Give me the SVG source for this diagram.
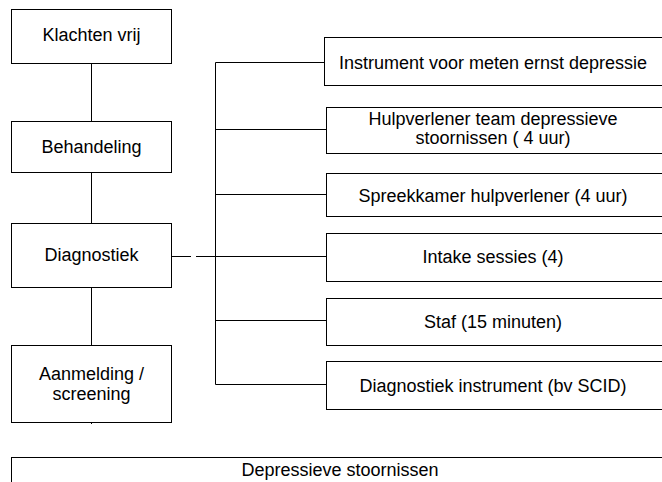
<svg xmlns="http://www.w3.org/2000/svg" width="662" height="482" viewBox="0 0 662 482">
  <style>
    .box { fill: #ffffff; stroke: #000000; stroke-width: 1; }
    .link { fill: none; stroke: #000000; stroke-width: 1; }
    text { font-family: "Liberation Sans", Arial, sans-serif; font-size: 18px; fill: #000000; text-anchor: middle; }
  </style>
  <rect width="662" height="482" fill="#ffffff"/>

  <!-- connectors -->
  <g id="connectors">
    <path class="link" d="M91.5 63 V121 M91.5 172 V223 M91.5 287 V345 M91.5 422 V424"/>
    <path class="link" d="M171 256.5 H191 M196 256.5 H215.5"/>
    <path class="link" d="M215.5 62.5 V384.5"/>
    <path class="link" d="M215.5 62.5 H324 M215.5 129.5 H326 M215.5 194.5 H326 M215.5 256.5 H326 M215.5 320.5 H326 M215.5 384.5 H326"/>
  </g>

  <!-- left column -->
  <g id="klachten-vrij">
    <rect class="box" x="11.5" y="9.5" width="160" height="54"/>
    <text x="91.5" y="41">Klachten vrij</text>
  </g>
  <g id="behandeling">
    <rect class="box" x="11.5" y="121.5" width="160" height="51"/>
    <text x="91.5" y="153">Behandeling</text>
  </g>
  <g id="diagnostiek">
    <rect class="box" x="11.5" y="223.5" width="160" height="64"/>
    <text x="91.5" y="261">Diagnostiek</text>
  </g>
  <g id="aanmelding">
    <rect class="box" x="11.5" y="345.5" width="160" height="77"/>
    <text x="91.5" y="380">Aanmelding /</text>
    <text x="91.5" y="400">screening</text>
  </g>

  <!-- right column -->
  <g id="instrument-ernst">
    <rect class="box" x="324.5" y="37.5" width="345" height="48"/>
    <text x="493" y="69">Instrument voor meten ernst depressie</text>
  </g>
  <g id="hulpverlener-team">
    <rect class="box" x="326.5" y="107.5" width="345" height="46"/>
    <text x="493" y="125">Hulpverlener team depressieve</text>
    <text x="493" y="144">stoornissen ( 4 uur)</text>
  </g>
  <g id="spreekkamer">
    <rect class="box" x="326.5" y="173.5" width="345" height="43"/>
    <text x="493" y="202">Spreekkamer hulpverlener (4 uur)</text>
  </g>
  <g id="intake">
    <rect class="box" x="326.5" y="233.5" width="345" height="48"/>
    <text x="493" y="263">Intake sessies (4)</text>
  </g>
  <g id="staf">
    <rect class="box" x="326.5" y="298.5" width="345" height="47"/>
    <text x="493" y="328">Staf (15 minuten)</text>
  </g>
  <g id="diagnostiek-instrument">
    <rect class="box" x="326.5" y="361.5" width="345" height="48"/>
    <text x="493" y="392">Diagnostiek instrument (bv SCID)</text>
  </g>

  <!-- base bar -->
  <g id="depressieve-stoornissen">
    <rect class="box" x="11.5" y="457.5" width="670" height="40"/>
    <text x="340" y="476">Depressieve stoornissen</text>
  </g>
</svg>
